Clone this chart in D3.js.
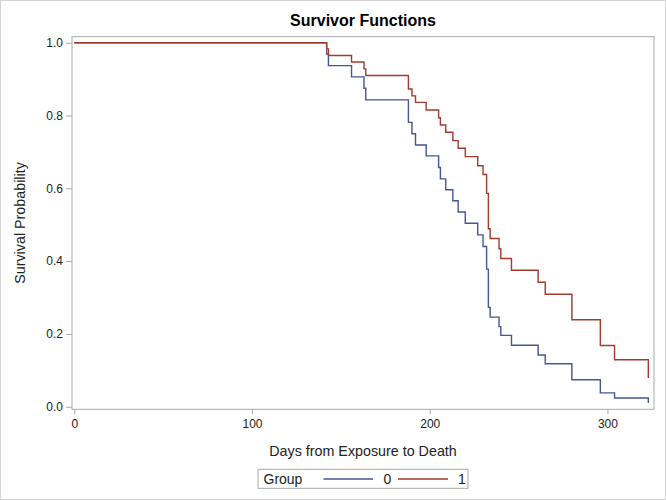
<!DOCTYPE html>
<html>
<head>
<meta charset="utf-8">
<script src="https://cdn.jsdelivr.net/npm/d3@7"></script>
<style>
  html, body { margin: 0; padding: 0; background: #fff; }
  text { font-family: Arial, "Liberation Sans", sans-serif; }
</style>
</head>
<body>
<svg id="chart" width="666" height="500"></svg>
<script>
// ---- data ----
const days = [0,142,143,156,163,164,188,190,192,198,205,206,209,213,216,220,227,230,232,233,234,239,240,246,261,265,280,296,304,323];
const group0 = [1,0.969,0.937,0.906,0.875,0.843,0.781,0.750,0.719,0.689,0.657,0.626,0.596,0.566,0.535,0.504,0.472,0.440,0.378,0.273,0.246,0.220,0.196,0.169,0.142,0.118,0.074,0.038,0.024,0.010];
const group1 = [1,0.983,0.965,0.947,0.928,0.910,0.873,0.854,0.836,0.815,0.794,0.774,0.754,0.731,0.710,0.687,0.662,0.638,0.586,0.489,0.462,0.434,0.407,0.375,0.342,0.309,0.239,0.168,0.129,0.079];
const groupNames = ["0", "1"];
const xTicks = [0, 100, 200, 300];
const yTicks = [0, 0.2, 0.4, 0.6, 0.8, 1.0];

const colors = ["#445694", "#A23A2E"];
const frameColor = "#a9a9a9";
const textColor = "#222";

const svg = d3.select("#chart");
const W = 666, H = 500;
const L = 72, R = 654, T = 36.7, B = 409.3;

// outer border
svg.append("rect").attr("x", 0.5).attr("y", 0.5).attr("width", W - 1).attr("height", H - 1)
  .attr("fill", "#fff").attr("stroke", "#d4d4d4");

const x = d3.scaleLinear().domain([-1.3, 326.2]).range([L, R]);
const y = d3.scaleLinear().domain([-0.0071, 1.0165]).range([B, T]);

// title
svg.append("text").attr("x", (L + R) / 2).attr("y", 25.5).attr("text-anchor", "middle")
  .attr("font-size", "16px").attr("font-weight", "bold").attr("fill", "#000")
  .text("Survivor Functions");

// axes
const xAxis = svg.append("g").attr("transform", `translate(0,${B})`)
  .call(d3.axisBottom(x).tickValues(xTicks).tickFormat(d3.format("d")).tickSize(5).tickSizeOuter(0).tickPadding(5));
const yAxis = svg.append("g").attr("transform", `translate(${L},0)`)
  .call(d3.axisLeft(y).tickValues(yTicks).tickFormat(d3.format(".1f")).tickSize(6).tickSizeOuter(0).tickPadding(3));
[xAxis, yAxis].forEach(g => {
  g.select(".domain").remove();
  g.selectAll(".tick line").attr("stroke", frameColor);
  g.selectAll(".tick text").attr("fill", textColor).attr("font-size", "12px")
    .style("font-family", "Arial, 'Liberation Sans', sans-serif");
});

// frame
svg.append("rect").attr("x", L).attr("y", T).attr("width", R - L).attr("height", B - T)
  .attr("fill", "none").attr("stroke", frameColor).attr("stroke-width", 1);

// axis labels
svg.append("text").attr("x", (L + R) / 2).attr("y", 456).attr("text-anchor", "middle")
  .attr("font-size", "14.3px").attr("fill", textColor).text("Days from Exposure to Death");
svg.append("text").attr("transform", `translate(25,${(T + B) / 2}) rotate(-90)`)
  .attr("text-anchor", "middle").attr("font-size", "14.3px").attr("fill", textColor)
  .text("Survival Probability");

// survival curves
const line = d3.line().x(d => x(d[0])).y(d => y(d[1])).curve(d3.curveStepAfter);
[group0, group1].forEach((vals, i) => {
  const pts = days.map((d, j) => [d, vals[j]]);
  svg.append("path").datum(pts).attr("d", line)
    .attr("fill", "none").attr("stroke", colors[i]).attr("stroke-width", 1.4);
});

// legend
const lg = svg.append("g");
lg.append("rect").attr("x", 258).attr("y", 469.3).attr("width", 210).attr("height", 19)
  .attr("fill", "#fff").attr("stroke", frameColor);
lg.append("text").attr("x", 263.5).attr("y", 484).attr("font-size", "14px").attr("fill", textColor).text("Group");
const items = [{x1: 323.5, x2: 373, tx: 383.5}, {x1: 398, x2: 448, tx: 458}];
items.forEach((it, i) => {
  lg.append("line").attr("x1", it.x1).attr("x2", it.x2).attr("y1", 479).attr("y2", 479)
    .attr("stroke", colors[i]).attr("stroke-width", 1.4);
  lg.append("text").attr("x", it.tx).attr("y", 484).attr("font-size", "14px").attr("fill", textColor)
    .text(groupNames[i]);
});
</script>
</body>
</html>
